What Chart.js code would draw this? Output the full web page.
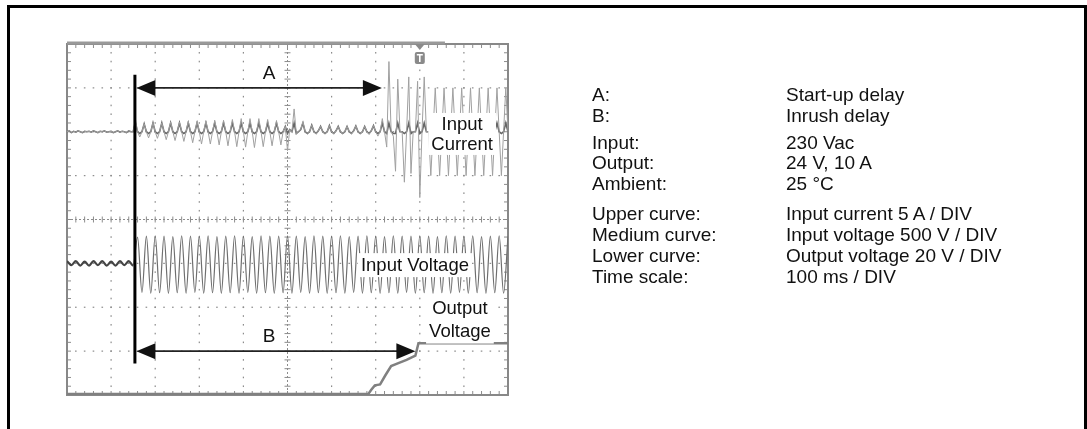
<!DOCTYPE html>
<html>
<head>
<meta charset="utf-8">
<script src="https://cdn.jsdelivr.net/npm/chart.js@4.4.0/dist/chart.umd.min.js"></script>
<style>
html, body { margin: 0; padding: 0; background: #fff; }
#page { position: relative; width: 1087px; height: 429px; overflow: hidden; font-family: "Liberation Sans", Arial, sans-serif; color: #111; }
#frame { position: absolute; left: 7px; top: 5px; width: 1074px; height: 440px; border: 3px solid #000; border-bottom: none; }
#scope { position: absolute; left: 0; top: 0; }
.note { position: absolute; font-size: 19px; line-height: 20px; white-space: nowrap; }
</style>
</head>
<body>
<div id="page">
  <div id="frame"></div>
  <canvas id="scope" width="1087" height="429"></canvas>
  <div id="notes"></div>
</div>
<script>
// time axis in ms (100 ms / DIV), vertical axis in divisions (8 DIV)
const timeMax = 1000;
const divCount = 8;

// upper curve: input current, one reading every 5 ms, in DIV from its zero line
const currentStepMs = 5;
const inputCurrent = [
  0, 0.02, -0.02, 0.01, -0.01, 0.02, 0, -0.02, 0.01, 0,          // 0
  0.01, -0.01, 0.02, 0, -0.02, 0.01, 0, 0.02, -0.01, 0,          // 50
  0.01, -0.02, 0, 0.02, -0.01, 0.01, 0, -0.02, 0.02, 0,          // 100
  0, 0.3, 0, -0.12, 0, 0.18, 0, -0.14, 0, 0.2,                   // 150
  0, -0.15, 0, 0.2, 0, -0.18, 0, 0.22, 0, -0.2,                  // 200
  0, 0.22, 0, -0.22, 0, 0.24, 0, -0.25, 0, 0.24,                 // 250
  0, -0.28, 0, 0.25, 0, -0.28, 0, 0.26, 0, -0.3,                 // 300
  0, 0.26, 0, -0.32, 0, 0.28, 0, -0.34, 0, 0.3,                  // 350
  0, -0.35, 0, 0.3, 0, -0.36, 0, 0.3, 0, -0.34,                  // 400
  0, 0.28, 0, -0.32, 0, 0.25, 0, -0.3, 0, 0.12,                  // 450
  -0.43, 0.05, 0, 0.52, -0.05, 0, 0.05, 0.23, 0, -0.05,          // 500
  0, 0.15, 0, -0.05, 0.02, 0.12, 0, -0.04, 0, 0.14,              // 550
  0, -0.05, 0.02, 0.12, 0, -0.04, 0, 0.12, 0, -0.05,             // 600
  0.02, 0.13, 0, -0.04, 0, 0.12, 0, -0.06, 0.02, 0.14,           // 650
  0, -0.1, 0, 0.3, 0, -0.35, 1.6, 0, -0.1, -0.9,                 // 700
  1.2, 0, 0, -1.15, 0, 1.25, -0.95, 0, 0, 1.15,                  // 750
  -1.5, 0, 1.25, 0, 0, -1.0, 0, 1.0, 0, -1.0,                    // 800
  0, 1.0, 0, -1.0, 0, 1.0, 0, -1.0, 0, 1.0,                      // 850
  0, -1.0, 0, 1.0, 0, -1.0, 0, 1.0, 0, -1.0,                     // 900
  0, 1.0, 0, -1.0, 0, 1.0, 0, -1.0, 0, 1.0,                      // 950
  0                                                              // 1000
];

// medium curve: input voltage, half-wave peaks every 10 ms, in DIV from its zero line
const voltageStepMs = 10;
const inputVoltage = [
  0.05, -0.04, 0.05, -0.05, 0.04, -0.05, 0.05, -0.04, 0.05, -0.05,   // 0
  0.04, -0.05, 0.05, -0.04, 0.05, -0.05, 0.60, -0.66, 0.62, -0.68,   // 100
  0.63, -0.67, 0.62, -0.68, 0.61, -0.67, 0.63, -0.68, 0.62, -0.66,   // 200
  0.62, -0.68, 0.63, -0.67, 0.61, -0.68, 0.62, -0.67, 0.63, -0.68,   // 300
  0.62, -0.66, 0.61, -0.68, 0.63, -0.67, 0.62, -0.68, 0.62, -0.67,   // 400
  0.63, -0.68, 0.62, -0.66, 0.61, -0.68, 0.63, -0.67, 0.62, -0.68,   // 500
  0.62, -0.67, 0.63, -0.68, 0.61, -0.66, 0.62, -0.68, 0.63, -0.67,   // 600
  0.62, -0.68, 0.61, -0.67, 0.63, -0.68, 0.62, -0.66, 0.62, -0.68,   // 700
  0.63, -0.67, 0.62, -0.68, 0.61, -0.67, 0.63, -0.68, 0.62, -0.66,   // 800
  0.62, -0.68, 0.63, -0.67, 0.61, -0.68, 0.62, -0.67, 0.63, -0.68,   // 900
  0.62                                                               // 1000
];

// lower curve: output voltage, in DIV above the bottom line
const outputTimes = [0, 683, 690, 698, 710, 722, 735, 750, 770, 790, 797, 1000];
const outputVoltage = [0.02, 0.02, 0.12, 0.22, 0.24, 0.45, 0.66, 0.72, 0.8, 0.9, 1.18, 1.18];

// zero line of each channel on the screen (DIV from bottom)
const currentZero = 6;
const voltageZero = 3;
const outputZero = 0;

// switch-on instant, trigger and the two delays
const switchOnMs = 154;
const triggerMs = 800;
const delayNames = ['A', 'B'];
const delayEnds = [714, 790];
const delayLevels = [7.0, 1.0];

// right-hand notes
const noteKeys = ['A:', 'B:', 'Input:', 'Output:', 'Ambient:', 'Upper curve:', 'Medium curve:', 'Lower curve:', 'Time scale:'];
const noteValues = ['Start-up delay', 'Inrush delay', '230 Vac', '24 V, 10 A', '25 °C',
  'Input current 5 A / DIV', 'Input voltage 500 V / DIV', 'Output voltage 20 V / DIV', '100 ms / DIV'];
const noteTops = [85, 106, 133, 153, 174, 204, 225, 246, 267];

var notes = document.getElementById('notes');
noteKeys.forEach(function(k, i) {
    var a = document.createElement('div');
    a.className = 'note';
    a.style.left = '592px';
    a.style.top = noteTops[i] + 'px';
    a.textContent = k;
    var b = document.createElement('div');
    b.className = 'note';
    b.style.left = '786px';
    b.style.top = noteTops[i] + 'px';
    b.textContent = noteValues[i];
    notes.appendChild(a);
    notes.appendChild(b);
});

const currentPoints = inputCurrent.map((v, i) => ({x: i * currentStepMs, y: currentZero + v}));
// the darker part of the trace hugging the zero line
const currentCore = inputCurrent.map((v, i) => ({x: i * currentStepMs, y: currentZero + Math.max(-0.04, Math.min(0.2, v))}));
const voltagePoints = inputVoltage.map((v, i) => ({x: i * voltageStepMs, y: voltageZero + v}));
const outputPoints = outputTimes.map((t, i) => ({x: t, y: outputZero + outputVoltage[i]}));

function arrowHead(ctx, x, y, dir) {
    ctx.beginPath();
    ctx.moveTo(x, y);
    ctx.lineTo(x - dir * 19, y - 8);
    ctx.lineTo(x - dir * 19, y + 8);
    ctx.closePath();
    ctx.fill();
}

function boxedText(ctx, lines, cx, cy, lineGap) {
    ctx.font = '18.5px "Liberation Sans", Arial, sans-serif';
    var w = Math.max.apply(null, lines.map(l => ctx.measureText(l).width));
    var h = lines.length * lineGap;
    ctx.fillStyle = '#fff';
    ctx.fillRect(cx - w / 2 - 3, cy - h / 2 - 1, w + 6, h + 2);
    ctx.fillStyle = '#111';
    ctx.textAlign = 'center';
    ctx.textBaseline = 'middle';
    lines.forEach(function(l, i) {
        ctx.fillText(l, cx, cy - h / 2 + lineGap * (i + 0.5) + 1);
    });
}

const scopePlugin = {
    id: 'scope',
    beforeDatasetsDraw(chart) {
        const ctx = chart.ctx;
        const xs = chart.scales.x, ys = chart.scales.y;
        const area = chart.chartArea;
        ctx.save();
        ctx.fillStyle = '#8c8c8c';
        // dotted grid, a dot every 1/5 DIV
        for (let t = 100; t < timeMax; t += 100) {
            if (t === timeMax / 2) continue;
            const px = xs.getPixelForValue(t);
            for (let d = 0.2; d < divCount; d += 0.2) {
                ctx.fillRect(px - 0.6, ys.getPixelForValue(d) - 0.8, 1.2, 1.6);
            }
        }
        for (let d = 1; d < divCount; d++) {
            if (d === divCount / 2) continue;
            const py = ys.getPixelForValue(d);
            for (let t = 20; t < timeMax; t += 20) {
                ctx.fillRect(xs.getPixelForValue(t) - 0.8, py - 0.6, 1.6, 1.2);
            }
        }
        // centre axes with small ticks
        const cx = xs.getPixelForValue(timeMax / 2), cy = ys.getPixelForValue(divCount / 2);
        ctx.strokeStyle = '#8c8c8c';
        ctx.lineWidth = 1;
        ctx.setLineDash([2, 2]);
        ctx.beginPath();
        ctx.moveTo(cx, area.top); ctx.lineTo(cx, area.bottom);
        ctx.moveTo(area.left, cy); ctx.lineTo(area.right, cy);
        ctx.stroke();
        ctx.setLineDash([]);
        ctx.beginPath();
        for (let t = 20; t < timeMax; t += 20) {
            const px = xs.getPixelForValue(t);
            ctx.moveTo(px, cy - 3); ctx.lineTo(px, cy + 3);
            ctx.moveTo(px, area.top); ctx.lineTo(px, area.top + 4);
            ctx.moveTo(px, area.bottom); ctx.lineTo(px, area.bottom - 4);
        }
        for (let d = 0.2; d < divCount; d += 0.2) {
            const py = ys.getPixelForValue(d);
            ctx.moveTo(cx - 3, py); ctx.lineTo(cx + 3, py);
            ctx.moveTo(area.left, py); ctx.lineTo(area.left + 4, py);
            ctx.moveTo(area.right, py); ctx.lineTo(area.right - 4, py);
        }
        ctx.stroke();
        // frame
        ctx.strokeStyle = '#888';
        ctx.lineWidth = 2;
        ctx.strokeRect(area.left, area.top, area.right - area.left, area.bottom - area.top);
        ctx.strokeStyle = '#999';
        ctx.lineWidth = 3;
        ctx.beginPath();
        ctx.moveTo(area.left, area.top - 1);
        ctx.lineTo(xs.getPixelForValue(857), area.top - 1);
        ctx.stroke();
        ctx.restore();
    },
    afterDatasetsDraw(chart) {
        const ctx = chart.ctx;
        const xs = chart.scales.x, ys = chart.scales.y;
        const area = chart.chartArea;
        ctx.save();
        // trigger mark
        const tx = xs.getPixelForValue(triggerMs);
        ctx.fillStyle = '#8a8a8a';
        ctx.beginPath();
        ctx.moveTo(tx - 5, area.top); ctx.lineTo(tx + 5, area.top); ctx.lineTo(tx, area.top + 6);
        ctx.closePath(); ctx.fill();
        ctx.beginPath();
        ctx.roundRect(tx - 5, area.top + 8, 10, 12, 2);
        ctx.fill();
        ctx.fillStyle = '#fff';
        ctx.fillRect(tx - 3, area.top + 10, 6, 1.5);
        ctx.fillRect(tx - 0.8, area.top + 10, 1.6, 8);

        // text labels on the traces
        boxedText(ctx, ['Input', 'Current'], xs.getPixelForValue(896), ys.getPixelForValue(5.95), 20);
        boxedText(ctx, ['Input Voltage'], xs.getPixelForValue(789), ys.getPixelForValue(2.96), 22);
        boxedText(ctx, ['Output', 'Voltage'], xs.getPixelForValue(891), ys.getPixelForValue(1.72), 23);

        // switch-on line
        const sx = xs.getPixelForValue(switchOnMs);
        ctx.strokeStyle = '#000';
        ctx.lineWidth = 3;
        ctx.beginPath();
        ctx.moveTo(sx, ys.getPixelForValue(7.3));
        ctx.lineTo(sx, ys.getPixelForValue(0.72));
        ctx.stroke();

        // delay arrows
        ctx.fillStyle = '#111';
        ctx.strokeStyle = '#222';
        ctx.lineWidth = 1.8;
        ctx.font = '19px "Liberation Sans", Arial, sans-serif';
        ctx.textAlign = 'center';
        ctx.textBaseline = 'middle';
        delayNames.forEach(function(name, i) {
            const y = ys.getPixelForValue(delayLevels[i]);
            const x0 = sx + 1.5, x1 = xs.getPixelForValue(delayEnds[i]);
            ctx.beginPath();
            ctx.moveTo(x0 + 10, y); ctx.lineTo(x1 - 10, y);
            ctx.stroke();
            arrowHead(ctx, x0, y, -1);
            arrowHead(ctx, x1, y, 1);
            ctx.fillText(name, xs.getPixelForValue(458), y - 14);
        });
        ctx.restore();
    }
};

new Chart(document.getElementById('scope'), {
    type: 'line',
    data: {
        datasets: [
            {
                label: 'Input current',
                data: currentPoints,
                borderColor: '#a0a0a0',
                borderWidth: 1,
                pointRadius: 0,
                tension: 0
            },
            {
                label: 'Input current (trace core)',
                data: currentCore,
                borderColor: '#666',
                borderWidth: 1.6,
                pointRadius: 0,
                tension: 0
            },
            {
                label: 'Input voltage',
                data: voltagePoints,
                borderColor: '#6e6e6e',
                borderWidth: 1.2,
                pointRadius: 0,
                cubicInterpolationMode: 'monotone',
                segment: {
                    borderWidth: ctx => Math.abs(ctx.p0.parsed.y - voltageZero) < 0.1 && Math.abs(ctx.p1.parsed.y - voltageZero) < 0.1 ? 2.2 : 1.2,
                    borderColor: ctx => Math.abs(ctx.p0.parsed.y - voltageZero) < 0.1 && Math.abs(ctx.p1.parsed.y - voltageZero) < 0.1 ? '#444' : '#6e6e6e'
                }
            },
            {
                label: 'Output voltage',
                data: outputPoints,
                borderColor: '#808080',
                borderWidth: 2.5,
                pointRadius: 0,
                tension: 0
            }
        ]
    },
    options: {
        responsive: false,
        animation: false,
        layout: { padding: { left: 67, top: 44, right: 579, bottom: 34 } },
        plugins: { legend: { display: false }, tooltip: { enabled: false } },
        scales: {
            x: { type: 'linear', min: 0, max: timeMax, display: false },
            y: { type: 'linear', min: 0, max: divCount, display: false }
        }
    },
    plugins: [scopePlugin]
});
</script>
</body>
</html>
